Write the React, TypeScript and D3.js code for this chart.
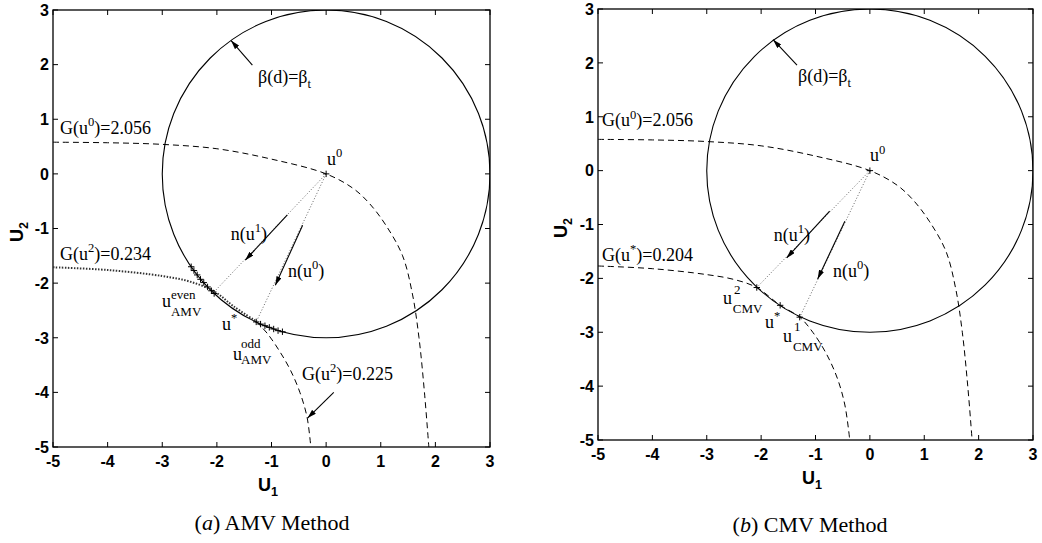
import React from "react";
import * as d3 from "d3";

type P = [number, number];

// ---------- data ----------
const tickValues = [-5, -4, -3, -2, -1, 0, 1, 2, 3];
const axisDomain: P = [-5, 3];
const betaTarget = 3;
const originU0: P = [0, 0];

// limit-state level curve G(u)=2.056 through u0 (both panels)
const gU0Curve: P[] = [
  [-5, 0.58], [-4, 0.57], [-3, 0.54], [-2, 0.46], [-1, 0.27], [0, 0],
  [0.5, -0.27], [0.8, -0.55], [1.1, -0.95], [1.4, -1.5], [1.58, -2.2],
  [1.7, -3.0], [1.8, -4.0], [1.88, -5],
];
// AMV: G(u2)=0.234 (dotted) and G(u2)=0.225 (dashed)
const amvG234Curve: P[] = [
  [-5, -1.71], [-4, -1.76], [-3, -1.87], [-2.5, -1.97], [-2.05, -2.15],
  [-1.7, -2.42], [-1.28, -2.7],
];
const amvG225Curve: P[] = [
  [-1.28, -2.7], [-1.07, -2.93], [-0.85, -3.25], [-0.65, -3.6],
  [-0.48, -4.0], [-0.35, -4.45], [-0.28, -5],
];
// CMV: G(u*)=0.204 (dashed)
const cmvG204Curve: P[] = [
  [-5, -1.77], [-4, -1.82], [-3, -1.93], [-2.5, -2.02], [-2.08, -2.17],
  [-1.65, -2.5], [-1.29, -2.72], [-1.05, -3.0], [-0.8, -3.4],
  [-0.6, -3.85], [-0.46, -4.35], [-0.37, -5],
];
// AMV iteration points on the target circle
const amvEvenPoints: P[] = [
  [-2.47, -1.7], [-2.42, -1.77], [-2.36, -1.85], [-2.3, -1.93],
  [-2.24, -1.99], [-2.17, -2.07], [-2.1, -2.14], [-2.05, -2.19],
];
const amvOddPoints: P[] = [
  [-1.28, -2.71], [-1.2, -2.75], [-1.12, -2.78], [-1.04, -2.81],
  [-0.96, -2.84], [-0.88, -2.87], [-0.8, -2.89],
];
// CMV points u2, u*, u1
const cmvPoints: P[] = [[-2.08, -2.17], [-1.65, -2.5], [-1.29, -2.72]];
// search directions from u0
const amvSearchEnds: P[] = [[-2.05, -2.16], [-1.28, -2.71]];
const cmvSearchEnds: P[] = [[-2.08, -2.17], [-1.29, -2.72]];

// ---------- helpers ----------
type Part = { t: string; s?: "sup" | "sub"; i?: boolean };

function Rich(props: {
  x: number; y: number; parts: Part[]; size: number;
  anchor?: string; family?: string; weight?: string | number;
}) {
  const { x, y, parts, size, anchor, family, weight } = props;
  let cur = 0;
  return (
    <text x={x} y={y} fontSize={size} textAnchor={anchor || "start"}
      fontFamily={family || "'Liberation Serif', 'Times New Roman', serif"}
      fontWeight={weight || "normal"} fill="#000">
      {parts.map((p, k) => {
        const target = p.s === "sup" ? -0.42 * size : p.s === "sub" ? 0.28 * size : 0;
        const dy = target - cur;
        cur = target;
        return (
          <tspan key={k} dy={dy} fontSize={p.s ? size * 0.7 : size}
            fontStyle={p.i ? "italic" : undefined}>{p.t}</tspan>
        );
      })}
    </text>
  );
}

type Label = { at: P; parts: Part[]; anchor?: string; size?: number };
type Arrow = { from: P; to: P };

type PanelProps = {
  id: string;
  box: { x0: number; x1: number; y0: number; y1: number };
  curves: { pts: P[]; dash: string; width: number; color: string }[];
  crossPoints: P[];
  searchEnds: P[];
  arrows: Arrow[];
  labels: Label[];
  caption: Part[];
  captionXY: [number, number];
  yLabelXY: [number, number];
  xLabelXY: [number, number];
};

function Panel(pp: PanelProps) {
  const { box } = pp;
  const x = d3.scaleLinear().domain(axisDomain).range([box.x0, box.x1]);
  const y = d3.scaleLinear().domain(axisDomain).range([box.y1, box.y0]);
  const line = d3.line<P>().x((d) => x(d[0])).y((d) => y(d[1])).curve(d3.curveCatmullRom.alpha(0.5));
  const tl = 5;
  const cross = (d: P, k: number, s = 3.2) => (
    <g key={k} stroke="#000" strokeWidth={1}>
      <line x1={x(d[0]) - s} x2={x(d[0]) + s} y1={y(d[1])} y2={y(d[1])} />
      <line x1={x(d[0])} x2={x(d[0])} y1={y(d[1]) - s} y2={y(d[1]) + s} />
    </g>
  );
  return (
    <g>
      {/* frame */}
      <rect x={box.x0} y={box.y0} width={box.x1 - box.x0} height={box.y1 - box.y0}
        fill="none" stroke="#000" strokeWidth={1.3} />
      {/* ticks */}
      {tickValues.map((v) => (
        <g key={"t" + v} stroke="#000" strokeWidth={1}>
          <line x1={x(v)} x2={x(v)} y1={box.y1} y2={box.y1 - tl} />
          <line x1={x(v)} x2={x(v)} y1={box.y0} y2={box.y0 + tl} />
          <line x1={box.x0} x2={box.x0 + tl} y1={y(v)} y2={y(v)} />
          <line x1={box.x1} x2={box.x1 - tl} y1={y(v)} y2={y(v)} />
        </g>
      ))}
      {tickValues.map((v) => (
        <text key={"xl" + v} x={x(v)} y={box.y1 + 20} textAnchor="middle"
          fontFamily="'Liberation Sans', Arial, sans-serif" fontWeight="bold" fontSize={16} fill="#000">{v}</text>
      ))}
      {tickValues.map((v) => (
        <text key={"yl" + v} x={box.x0 - 4} y={y(v)} dy="0.36em" textAnchor="end"
          fontFamily="'Liberation Sans', Arial, sans-serif" fontWeight="bold" fontSize={16} fill="#000">{v}</text>
      ))}
      {/* axis labels */}
      <Rich x={pp.xLabelXY[0]} y={pp.xLabelXY[1]} size={18} anchor="middle"
        family="'Liberation Sans', Arial, sans-serif" weight="bold"
        parts={[{ t: "U" }, { t: "1", s: "sub" }]} />
      <g transform={`translate(${pp.yLabelXY[0]},${pp.yLabelXY[1]}) rotate(-90)`}>
        <Rich x={0} y={0} size={18} anchor="middle"
          family="'Liberation Sans', Arial, sans-serif" weight="bold"
          parts={[{ t: "U" }, { t: "2", s: "sub" }]} />
      </g>
      <defs>
        <clipPath id={"clip" + pp.id}>
          <rect x={box.x0} y={box.y0} width={box.x1 - box.x0} height={box.y1 - box.y0} />
        </clipPath>
      </defs>
      <g clipPath={`url(#clip${pp.id})`}>
        {/* target reliability circle */}
        <ellipse cx={x(originU0[0])} cy={y(originU0[1])}
          rx={x(betaTarget) - x(0)} ry={y(0) - y(betaTarget)}
          fill="none" stroke="#000" strokeWidth={1.1} />
        {pp.curves.map((c, k) => (
          <path key={k} d={line(c.pts) || ""} fill="none" stroke={c.color}
            strokeWidth={c.width} strokeDasharray={c.dash} />
        ))}
        {pp.searchEnds.map((e, k) => (
          <line key={k} x1={x(originU0[0])} y1={y(originU0[1])} x2={x(e[0])} y2={y(e[1])}
            stroke="#666" strokeWidth={1} strokeDasharray="1,2" />
        ))}
        {pp.crossPoints.map((d, k) => cross(d, k))}
        {cross(originU0, 999)}
      </g>
      {pp.arrows.map((a, k) => (
        <line key={k} x1={x(a.from[0])} y1={y(a.from[1])} x2={x(a.to[0])} y2={y(a.to[1])}
          stroke="#000" strokeWidth={1.1} markerEnd="url(#ah)" />
      ))}
      {pp.labels.map((l, k) => (
        <Rich key={k} x={x(l.at[0])} y={y(l.at[1])} parts={l.parts} size={l.size || 18}
          anchor={l.anchor} />
      ))}
      <Rich x={pp.captionXY[0]} y={pp.captionXY[1]} parts={pp.caption} size={22} anchor="middle" />
    </g>
  );
}

export default function App() {
  const left: PanelProps = {
    id: "L",
    box: { x0: 53, x1: 490, y0: 10, y1: 447 },
    curves: [
      { pts: gU0Curve, dash: "6,4", width: 1, color: "#000" },
      { pts: amvG234Curve, dash: "1.5,1.5", width: 2, color: "#333" },
      { pts: amvG225Curve, dash: "6,4", width: 1, color: "#000" },
    ],
    crossPoints: [...amvEvenPoints, ...amvOddPoints],
    searchEnds: amvSearchEnds,
    arrows: [
      { from: [-1.35, 1.99], to: [-1.74, 2.44] },
      { from: [-0.71, -0.75], to: [-1.48, -1.58] },
      { from: [-0.43, -0.94], to: [-0.93, -2.04] },
      { from: [0.14, -4.0], to: [-0.34, -4.47] },
    ],
    labels: [
      { at: [-4.872, 0.73], parts: [{ t: "G(u" }, { t: "0", s: "sup" }, { t: ")=2.056" }] },
      { at: [-4.872, -1.577], parts: [{ t: "G(u" }, { t: "2", s: "sup" }, { t: ")=0.234" }] },
      { at: [-1.247, 1.664], parts: [{ t: "β(d)=β" }, { t: "t", s: "sub" }] },
      { at: [0.016, 0.162], parts: [{ t: "u" }, { t: "0", s: "sup" }] },
      { at: [-1.082, -1.21], parts: [{ t: "n(u" }, { t: "1", s: "sup" }, { t: ")" }], anchor: "end" },
      { at: [-0.698, -1.888], parts: [{ t: "n(u" }, { t: "0", s: "sup" }, { t: ")" }] },
      { at: [-3.005, -2.437], parts: [{ t: "u" }] },
      { at: [-2.84, -2.29], parts: [{ t: "even" }], size: 13 },
      { at: [-2.84, -2.6], parts: [{ t: "AMV" }], size: 13 },
      { at: [-1.906, -2.858], parts: [{ t: "u" }, { t: "*", s: "sup" }] },
      { at: [-1.705, -3.407], parts: [{ t: "u" }] },
      { at: [-1.558, -3.188], parts: [{ t: "odd" }], size: 13 },
      { at: [-1.558, -3.48], parts: [{ t: "AMV" }], size: 13 },
      { at: [-0.442, -3.773], parts: [{ t: "G(u" }, { t: "2", s: "sup" }, { t: ")=0.225" }] },
    ],
    caption: [{ t: "(" }, { t: "a", i: true }, { t: ") AMV Method" }],
    captionXY: [272, 530],
    yLabelXY: [23, 232],
    xLabelXY: [268, 491],
  };
  const right: PanelProps = {
    id: "R",
    box: { x0: 598, x1: 1033, y0: 9, y1: 440 },
    curves: [
      { pts: gU0Curve, dash: "6,4", width: 1, color: "#000" },
      { pts: cmvG204Curve, dash: "6,4", width: 1, color: "#000" },
    ],
    crossPoints: cmvPoints,
    searchEnds: cmvSearchEnds,
    arrows: [
      { from: [-1.34, 1.96], to: [-1.78, 2.43] },
      { from: [-0.74, -0.75], to: [-1.53, -1.62] },
      { from: [-0.46, -0.94], to: [-0.96, -2.01] },
    ],
    labels: [
      { at: [-4.926, 0.82], parts: [{ t: "G(u" }, { t: "0", s: "sup" }, { t: ")=2.056" }] },
      { at: [-4.926, -1.674], parts: [{ t: "G(u" }, { t: "*", s: "sup" }, { t: ")=0.204" }] },
      { at: [-1.322, 1.651], parts: [{ t: "β(d)=β" }, { t: "t", s: "sub" }] },
      { at: [0.002, 0.173], parts: [{ t: "u" }, { t: "0", s: "sup" }] },
      { at: [-1.101, -1.305], parts: [{ t: "n(u" }, { t: "1", s: "sup" }, { t: ")" }], anchor: "end" },
      { at: [-0.678, -1.97], parts: [{ t: "n(u" }, { t: "0", s: "sup" }, { t: ")" }] },
      { at: [-2.701, -2.469], parts: [{ t: "u" }] },
      { at: [-2.5, -2.284], parts: [{ t: "2" }], size: 13 },
      { at: [-2.52, -2.635], parts: [{ t: "CMV" }], size: 13 },
      { at: [-1.929, -2.912], parts: [{ t: "u" }, { t: "*", s: "sup" }] },
      { at: [-1.598, -3.19], parts: [{ t: "u" }] },
      { at: [-1.395, -2.986], parts: [{ t: "1" }], size: 13 },
      { at: [-1.415, -3.356], parts: [{ t: "CMV" }], size: 13 },
    ],
    caption: [{ t: "(" }, { t: "b", i: true }, { t: ") CMV Method" }],
    captionXY: [810, 532],
    yLabelXY: [567, 228],
    xLabelXY: [812, 484],
  };
  return (
    <svg width={1042} height={543} style={{ position: "absolute", left: 0, top: 0, background: "#fff" }}>
      <defs>
        <marker id="ah" viewBox="0 0 10 6" refX="10" refY="3" markerWidth="9" markerHeight="5.4"
          markerUnits="userSpaceOnUse" orient="auto">
          <path d="M0,0 L10,3 L0,6 z" fill="#000" />
        </marker>
      </defs>
      <rect x={0} y={0} width={1042} height={543} fill="#fff" />
      <Panel {...left} />
      <Panel {...right} />
    </svg>
  );
}
